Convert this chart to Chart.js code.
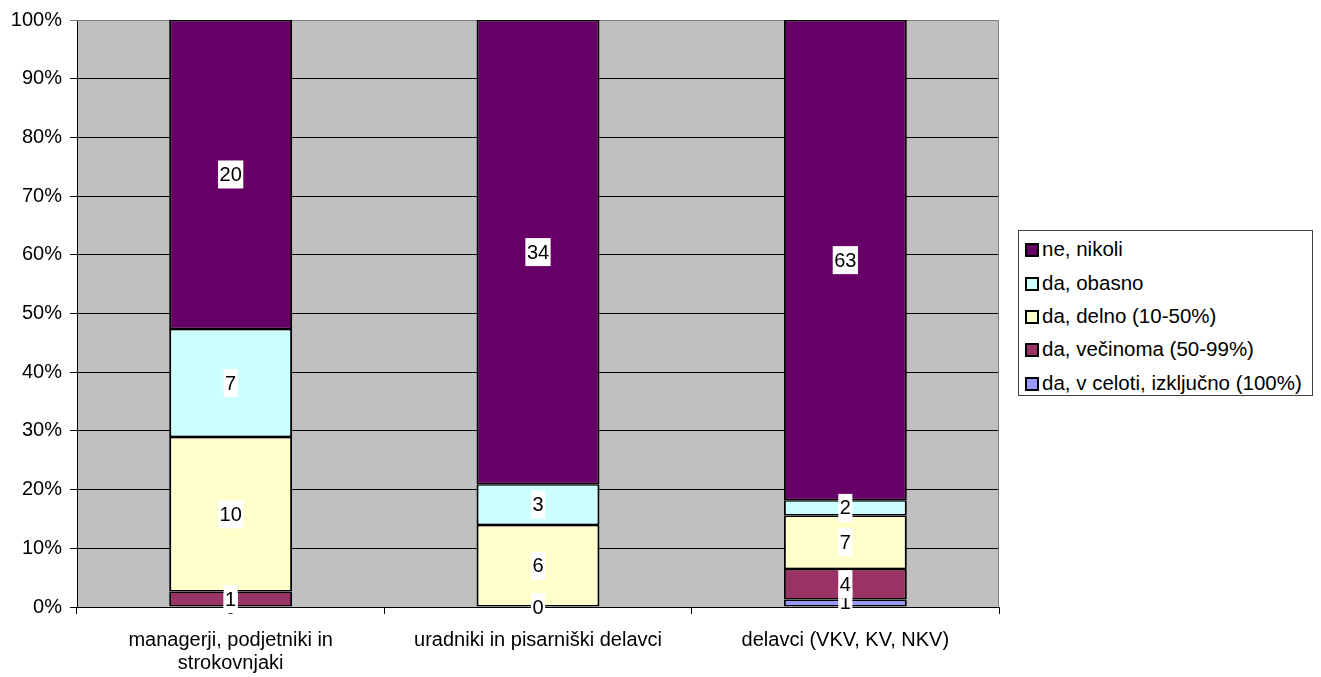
<!DOCTYPE html>
<html>
<head>
<meta charset="utf-8">
<script src="https://cdn.jsdelivr.net/npm/chart.js@4"></script>
<style>
  body { margin: 0; background: #fff; }
  #wrap { position: relative; width: 1321px; height: 677px; }
  #legend {
    position: absolute; left: 1018px; top: 230px; width: 293px; height: 164px;
    border: 1px solid #404040; background: #fff;
    font-family: "Liberation Sans", Arial, sans-serif; font-size: 20.5px; color: #000;
  }
  .item { position: absolute; left: 6px; height: 24px; line-height: 24px; white-space: nowrap; }
  .box { display: inline-block; width: 10px; height: 10px; border: 2px solid #000; margin-right: 3px; vertical-align: -1px; }
</style>
</head>
<body>
<div id="wrap">
  <canvas id="chart"></canvas>
  <div id="legend"></div>
</div>
<script>
const categories = [['managerji, podjetniki in', 'strokovnjaki'], 'uradniki in pisarniški delavci', 'delavci (VKV, KV, NKV)'];
const seriesNames = ['da, v celoti, izključno (100%)', 'da, večinoma (50-99%)', 'da, delno (10-50%)', 'da, obasno', 'ne, nikoli'];
const vCeloti = [0, 0, 1];
const vecinoma = [1, 0, 4];
const delno = [10, 6, 7];
const obasno = [7, 3, 2];
const nikoli = [20, 34, 63];
const yTicks = [0, 10, 20, 30, 40, 50, 60, 70, 80, 90, 100];
const colors = ['#9999FF', '#993366', '#FFFFCC', '#CCFFFF', '#660066'];

const counts = [vCeloti, vecinoma, delno, obasno, nikoli];
const totals = categories.map((c, i) => counts.reduce((s, arr) => s + arr[i], 0));

const FONT = "'Liberation Sans', Arial, sans-serif";

const plotBg = {
  id: 'plotBg',
  beforeDraw(chart) {
    const a = chart.chartArea, ctx = chart.ctx;
    ctx.save();
    ctx.fillStyle = '#C0C0C0';
    ctx.fillRect(a.left, a.top, a.right - a.left, a.bottom - a.top);
    ctx.restore();
  },
  beforeDatasetsDraw(chart) {
    const a = chart.chartArea, ctx = chart.ctx;
    ctx.save();
    ctx.strokeStyle = '#808080';
    ctx.lineWidth = 1;
    ctx.beginPath();
    ctx.moveTo(a.left, a.top + 0.5);
    ctx.lineTo(a.right - 0.5, a.top + 0.5);
    ctx.lineTo(a.right - 0.5, a.bottom);
    ctx.stroke();
    ctx.restore();
  }
};

const valueLabels = {
  id: 'valueLabels',
  afterDatasetsDraw(chart) {
    const ctx = chart.ctx, a = chart.chartArea;
    ctx.save();
    ctx.beginPath();
    ctx.rect(0, 0, chart.width, a.bottom + 7);
    ctx.clip();
    ctx.font = '20px ' + FONT;
    ctx.textAlign = 'center';
    ctx.textBaseline = 'middle';
    chart.data.datasets.forEach((ds, di) => {
      chart.getDatasetMeta(di).data.forEach((el, i) => {
        const txt = String(ds.counts[i]);
        const y = (el.y + el.base) / 2;
        const w = ctx.measureText(txt).width + 3;
        ctx.fillStyle = '#fff';
        ctx.fillRect(el.x - w / 2, y - 14, w, 28);
        ctx.fillStyle = '#000';
        ctx.fillText(txt, el.x, y + 1);
      });
    });
    ctx.restore();
  }
};

new Chart(document.getElementById('chart'), {
  type: 'bar',
  data: {
    labels: categories,
    datasets: counts.map((arr, k) => ({
      label: seriesNames[k],
      counts: arr,
      data: arr.map((v, i) => v / totals[i] * 100),
      backgroundColor: colors[k],
      borderColor: '#000',
      borderWidth: { left: 2, right: 2, top: 1.5, bottom: 1.5 },
      borderSkipped: false,
      barPercentage: 0.4,
      categoryPercentage: 1
    }))
  },
  options: {
    responsive: true,
    maintainAspectRatio: false,
    animation: false,
    layout: { padding: { left: 0, top: 16, right: 322, bottom: 0 } },
    plugins: { legend: { display: false }, tooltip: { enabled: false } },
    scales: {
      x: {
        stacked: true,
        afterFit: s => { s.height = 70; },
        grid: { offset: true, drawOnChartArea: false, color: '#000', tickLength: 7 },
        border: { color: '#000', width: 1 },
        ticks: { color: '#000', font: { family: FONT, size: 20, lineHeight: 1.15 }, padding: 15, maxRotation: 0 }
      },
      y: {
        stacked: true,
        min: 0,
        max: 100,
        afterFit: s => { s.width = 77; },
        afterBuildTicks: s => { s.ticks = yTicks.map(v => ({ value: v })); },
        grid: { color: c => (c.tick && c.tick.value === 100 ? '#808080' : '#000'), tickLength: 7 },
        border: { color: '#000', width: 1 },
        ticks: { color: '#000', font: { family: FONT, size: 20 }, padding: 8, callback: v => v + '%' }
      }
    }
  },
  plugins: [plotBg, valueLabels]
});

const legend = document.getElementById('legend');
const rowTops = [6, 40, 73, 106, 140];
seriesNames.slice().reverse().forEach((name, j) => {
  const k = seriesNames.length - 1 - j;
  const div = document.createElement('div');
  div.className = 'item';
  div.style.top = rowTops[j] + 'px';
  div.innerHTML = '<span class="box" style="background:' + colors[k] + '"></span>' + name;
  legend.appendChild(div);
});
</script>
</body>
</html>
